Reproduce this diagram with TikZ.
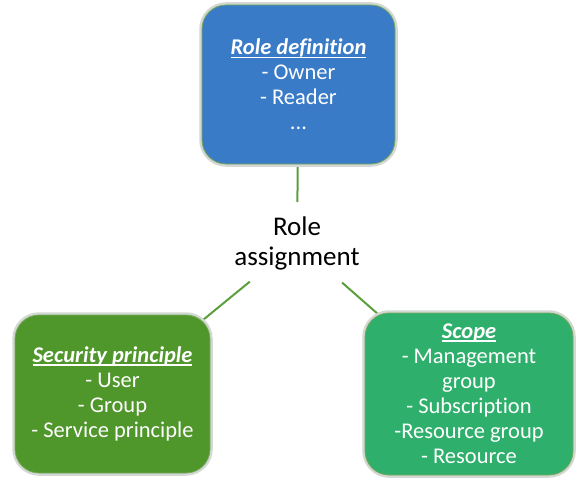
\documentclass[tikz,border=0pt]{standalone}
\usepackage{fontspec}
\setmainfont[Ligatures=NoCommon]{Carlito}
\usetikzlibrary{backgrounds}
\definecolor{bluebox}{HTML}{3A7BC8}
\definecolor{greenbox}{HTML}{4F962B}
\definecolor{tealbox}{HTML}{2EB06C}
\definecolor{boxedge}{HTML}{78A85C}
\definecolor{halo}{HTML}{D3D8D3}
\definecolor{linkgreen}{HTML}{5A9F3C}
\newcommand\ulx[1]{\setbox0\hbox{#1}\rlap{\rule[-3.2pt]{\wd0}{1.5pt}}\box0}
\begin{document}
\begin{tikzpicture}[x=1pt,y=-1pt,
  box/.style={rounded corners=24pt, draw=boxedge, line width=0.8pt,
    preaction={draw=halo, line width=5.5pt},
    text=white, align=center, inner sep=0pt,
    font=\fontsize{22.5}{25}\selectfont},
  link/.style={draw=linkgreen, line width=2pt}]
\useasboundingbox (0,0) rectangle (585,484);
\node[box, fill=bluebox, minimum width=193pt, minimum height=159pt] (rd) at (298.5,84.5)
  {\ulx{\textbf{\textit{Role definition}}}\\- Owner\\- Reader\\...};
\node[box, fill=greenbox, minimum width=195pt, minimum height=158pt] (sp) at (112.5,394)
  {\ulx{\textbf{\textit{Security principle}}}\\- User\\- Group\\- Service principle};
\node[box, fill=tealbox, minimum width=208pt, minimum height=162pt] (sc) at (469,394)
  {\ulx{\textbf{\textit{Scope}}}\\- Management\\group\\- Subscription\\-Resource group\\- Resource};
\node[align=center, inner sep=0pt, font=\fontsize{27}{30}\selectfont] (ra) at (297,243) {Role\\assignment};
\begin{scope}[on background layer]
\draw[link, shorten >=41pt] (rd.center) -- (ra.center);
\draw[link, shorten >=61pt] (sp.center) -- (ra.center);
\draw[link, shorten >=60pt] (sc.center) -- (ra.center);
\end{scope}
\end{tikzpicture}
\end{document}
